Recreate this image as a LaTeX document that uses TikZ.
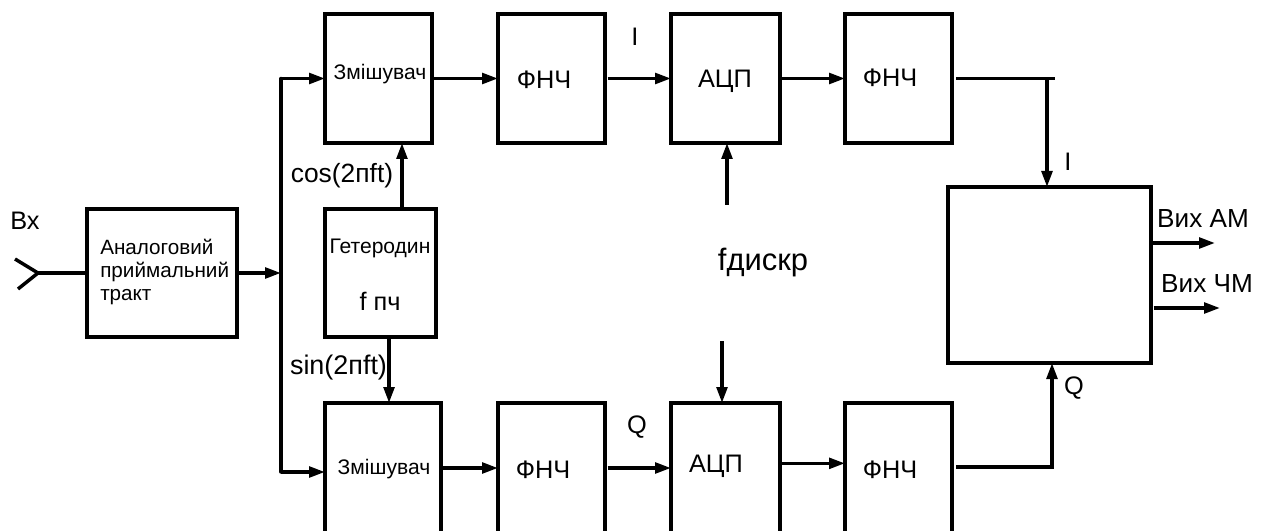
\documentclass[tikz,border=0pt]{standalone}
\usepackage{fontspec}
\setmainfont{Liberation Sans}
\usetikzlibrary{arrows.meta}
\tikzset{
  block/.style={draw=black,line width=3.2pt,outer sep=0pt,inner sep=0pt,fill=white},
  lpfbox/.style={block,minimum width=80.25pt,minimum height=96.75pt},
  adcbox/.style={block,minimum width=81.75pt,minimum height=96.75pt},
  signal/.style={-{Stealth[length=12pt,width=8pt,inset=0pt]},line width=2.6pt,draw=black},
  wire/.style={line width=2.6pt,draw=black},
  small label/.style={font=\fontsize{15.8}{17.6}\selectfont,inner sep=0pt},
  big label/.style={font=\fontsize{19}{22}\selectfont,inner sep=0pt},
  port label/.style={font=\fontsize{19.6}{22}\selectfont,inner sep=0pt}
}
\begin{document}
\begin{tikzpicture}[x=0.75pt,y=-0.75pt]
  \useasboundingbox (0,0) rectangle (1265,531);
  \clip (0,0) rectangle (1265,531);
  % blocks
  \node[block,minimum width=112.5pt,minimum height=96pt] (analog) at (162,273) {};
  \node[block,minimum width=83.25pt,minimum height=96pt] (hetero) at (380.5,273) {};
  \node[block,minimum width=80.25pt,minimum height=96.75pt] (mixa) at (378.5,78.5) {};
  \node[block,minimum width=87pt,minimum height=97.5pt] (mixb) at (383,468) {};
  \node[lpfbox] (lpfa) at (551.5,78.5) {};
  \node[adcbox] (adca) at (725.5,78.5) {};
  \node[lpfbox] (lpfc) at (898.5,78.5) {};
  \node[lpfbox,minimum height=97.5pt] (lpfb) at (551.5,468) {};
  \node[adcbox,minimum height=97.5pt] (adcb) at (725.5,468) {};
  \node[lpfbox,minimum height=97.5pt] (lpfd) at (898.5,468) {};
  \node[block,minimum width=152.25pt,minimum height=132pt] (demod) at (1049.5,275) {};
  % texts
  \node[big label] (inlabel) at (25,221) {Вх};
  \node[small label,font=\fontsize{15.5}{17.6}\selectfont,align=left,anchor=west] (analogtext) at (100,272) {Аналоговий\\приймальний\\тракт};
  \node[small label] (heterotext) at (380,248) {Гетеродин};
  \node[big label] (fpch) at (380,301) {f пч};
  \node[small label] (mixatext) at (380,74) {Змішувач};
  \node[small label] (mixbtext) at (384,469) {Змішувач};
  \node[big label] (lpfatext) at (544,80) {ФНЧ};
  \node[big label] (adcatext) at (725,81) {АЦП};
  \node[big label] (lpfctext) at (890,78) {ФНЧ};
  \node[big label] (lpfbtext) at (543,470) {ФНЧ};
  \node[big label] (adcbtext) at (716,466) {АЦП};
  \node[big label] (lpfdtext) at (890,470) {ФНЧ};
  \node[big label,font=\fontsize{19.8}{24}\selectfont] (cosl) at (342,176) {cos(2пft)};
  \node[big label,font=\fontsize{20.2}{24}\selectfont] (sinl) at (338.5,368) {sin(2пft)};
  \node[big label,font=\fontsize{23.2}{28}\selectfont] (fd) at (763,263) {fдискр};
  \node[big label] (ia) at (635,37) {I};
  \node[big label] (qa) at (637,427) {Q};
  \node[big label] (ib) at (1068,162) {I};
  \node[big label] (qb) at (1074,388) {Q};
  \node[port label] (outam) at (1203,219) {Вих АМ};
  \node[port label] (outfm) at (1207,284) {Вих ЧМ};
  % junctions
  \coordinate (anttop) at (15,259);
  \coordinate (antmid) at (38,273);
  \coordinate (antbot) at (18,289);
  \coordinate (busin) at (281,273);
  \coordinate (busa) at (281,78.5);
  \coordinate (busb) at (281,472);
  \coordinate (fda) at (727,205);
  \coordinate (fdb) at (722,341);
  \coordinate (enda) at (1055,78.5);
  \coordinate (endb) at (1054,467);
  \coordinate (tapa) at (1047,78.5);
  \coordinate (tapb) at (1052,467);
  \coordinate (ama) at (1215,243);
  \coordinate (fma) at (1220,308);
  % connectors
  \draw[wire] (anttop) -- (antmid) -- (antbot);
  \draw[wire] (antmid) -- (analog.west |- antmid);
  \draw[signal] (analog.east) -- (busin);
  \draw[wire,line cap=round] (busa) -- (busb);
  \draw[signal] (busa) -- (mixa.west);
  \draw[signal] (busb) -- (mixb.west |- busb);
  \draw[signal] ([xshift=16.1pt]hetero.north) -- ([xshift=16.1pt]hetero.north |- mixa.south);
  \draw[signal] ([xshift=6.4pt]hetero.south) -- ([xshift=6.4pt]hetero.south |- mixb.north);
  \draw[signal] (mixa.east) -- (lpfa.west);
  \draw[signal] ([xshift=2pt]lpfa.east) -- (adca.west);
  \draw[signal] (adca.east) -- (lpfc.west);
  \draw[signal] (mixb.east) -- (lpfb.west);
  \draw[signal] ([xshift=2pt]lpfb.east) -- (adcb.west);
  \draw[signal] ([yshift=3.5pt]adcb.east) -- ([yshift=3.5pt]lpfd.west);
  \draw[signal] (fda) -- (fda |- adca.south);
  \draw[signal] (fdb) -- (fdb |- adcb.north);
  \draw[wire] ([xshift=3pt]lpfc.east) -- (enda);
  \draw[wire] ([xshift=3pt]lpfd.east |- endb) -- (endb);
  \draw[signal] (tapa) -- (tapa |- demod.north);
  \draw[signal] (tapb) -- (tapb |- demod.south);
  \draw[signal] (demod.east |- ama) -- (ama);
  \draw[signal] ([xshift=2pt]demod.east |- fma) -- (fma);
\end{tikzpicture}
\end{document}
